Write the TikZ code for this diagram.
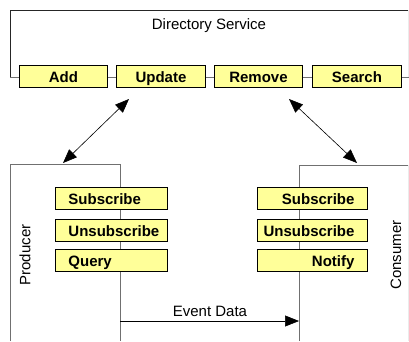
\documentclass[tikz,border=0pt]{standalone}
\usepackage{fontspec}
\setmainfont{Liberation Sans}
\usetikzlibrary{arrows.meta}
\definecolor{btnfill}{HTML}{FFFF99}
\definecolor{edge}{HTML}{707070}
\tikzset{
  btn/.style={draw=black, line width=0.9pt, fill=btnfill, minimum height=22pt,
    inner sep=0pt, text height=12pt, text depth=0pt,
    font=\fontsize{15}{15}\selectfont\bfseries, anchor=north west},
  lbtn/.style={btn, minimum width=112pt},
  rbtn/.style={btn, minimum width=110pt},
  frame/.style={draw=edge, line width=1pt},
  link/.style={line width=0.6pt, {Triangle[length=14pt,width=11pt]}-{Triangle[length=14pt,width=11pt]}},
  lbl/.style={font=\fontsize{15}{15}\selectfont, inner sep=0pt}
}
\newcommand{\lefttext}[1]{\makebox[86pt][l]{#1}}
\newcommand{\righttext}[1]{\makebox[84pt][r]{#1}}
\begin{document}
\begin{tikzpicture}[x=1pt, y=-1pt]
\useasboundingbox (0,0) rectangle (409,341);
\fill[white] (0,0) rectangle (409,341);

% directory service frame
\draw[draw=black!85, line width=1pt] (10,77) -- (10,10) -- (409,10);
\draw[draw=black!8, line width=0.8pt] (408,10) -- (408,77);
\draw[frame] (10,77) -- (409,77);
\node[lbl] (ds) at (209,26) {Directory Service};

\node[btn, minimum width=88pt] (add) at (19,65) {Add};
\node[btn, minimum width=89pt] (upd) at (116,65) {Update};
\node[btn, minimum width=88pt] (rem) at (214,65) {Remove};
\node[btn, minimum width=89pt] (sea) at (312,65) {Search};

% producer frame
\draw[frame] (10,341) -- (10,164) -- (120,164) -- (120,341);
\node[lbl, rotate=90] (prod) at (25,255) {Producer};
\node[lbtn] (ps) at (55,187) {\lefttext{Subscribe}};
\node[lbtn] (pu) at (55,219) {\lefttext{Unsubscribe}};
\node[lbtn] (pq) at (55,249) {\lefttext{Query}};

% consumer frame
\draw[frame] (299,341) -- (299,165) -- (409,165);
\draw[draw=black!8, line width=0.8pt] (408,165) -- (408,341);
\node[lbl, rotate=90] (cons) at (396,255) {Consumer};
\node[rbtn] (cs) at (257,187) {\righttext{Subscribe}};
\node[rbtn] (cu) at (257,219) {\righttext{Unsubscribe}};
\node[rbtn] (cn) at (257,249) {\righttext{Notify}};

% links to the directory
\coordinate (la) at (129,99);
\coordinate (lb) at (63,163);
\coordinate (ra) at (289,99);
\coordinate (rb) at (357,163);
\draw[link] (la) -- (lb);
\draw[link] (ra) -- (rb);

% event data flow
\coordinate (es) at (120,321);
\coordinate (ee) at (299,321);
\draw[line width=0.6pt, -{Triangle[length=14pt,width=11pt]}] (es) -- (ee);
\node[lbl] (ev) at (210,311) {Event Data};
\end{tikzpicture}
\end{document}
